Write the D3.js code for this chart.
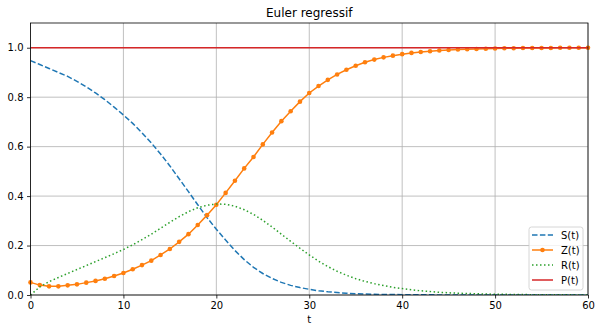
<!DOCTYPE html>
<html>
<head>
<meta charset="utf-8">
<script src="https://cdn.jsdelivr.net/npm/d3@7"></script>
<style>
  body { margin: 0; background: #fff; }
  svg text { font-family: "DejaVu Sans", sans-serif; fill: #000; }
</style>
</head>
<body>
<svg id="chart" width="601" height="333"></svg>
<script>
// time steps
const t = d3.range(0, 61)

// series
const S = [0.948, 0.932, 0.916, 0.900, 0.884, 0.864, 0.842, 0.817, 0.790, 0.760,
  0.728, 0.694, 0.656, 0.615, 0.570, 0.522, 0.470, 0.418, 0.365, 0.313,
  0.266, 0.222, 0.180, 0.143, 0.112, 0.087, 0.067, 0.051, 0.039, 0.030,
  0.023, 0.017, 0.013, 0.010, 0.007, 0.005, 0.004, 0.003, 0.002, 0.002,
  0.001, 0.001, 0.001, 0.001, 0, 0, 0, 0, 0, 0,
  0, 0, 0, 0, 0, 0, 0, 0, 0, 0, 0]

const Z = [0.051, 0.040, 0.035, 0.035, 0.039, 0.043, 0.050, 0.057, 0.066, 0.077,
  0.089, 0.104, 0.121, 0.139, 0.162, 0.186, 0.215, 0.246, 0.283, 0.323,
  0.365, 0.413, 0.462, 0.512, 0.558, 0.609, 0.657, 0.703, 0.743, 0.782,
  0.817, 0.845, 0.870, 0.892, 0.911, 0.927, 0.941, 0.952, 0.961, 0.968,
  0.974, 0.979, 0.983, 0.986, 0.989, 0.991, 0.993, 0.994, 0.995, 0.996,
  0.997, 0.998, 0.998, 0.999, 0.999, 0.999, 0.999, 1.0, 1.0, 1.0, 1.0]

const R = [0.000, 0.033, 0.054, 0.071, 0.087, 0.103, 0.119, 0.135, 0.151, 0.167,
  0.184, 0.203, 0.224, 0.246, 0.270, 0.294, 0.317, 0.337, 0.353, 0.363,
  0.368, 0.367, 0.359, 0.345, 0.326, 0.302, 0.275, 0.246, 0.217, 0.189,
  0.162, 0.137, 0.115, 0.096, 0.080, 0.066, 0.055, 0.046, 0.038, 0.031,
  0.026, 0.021, 0.017, 0.014, 0.011, 0.009, 0.007, 0.006, 0.005, 0.004,
  0.003, 0.003, 0.002, 0.002, 0.001, 0.001, 0.001, 0.001, 0.001, 0, 0]

const P = t.map(() => 1.0)

const xTicks = [0, 10, 20, 30, 40, 50, 60]
const yTicks = [0.0, 0.2, 0.4, 0.6, 0.8, 1.0]

const series = [
  { name: 'S(t)', values: S, color: '#1f77b4', dash: '5.5,2.4', marker: false },
  { name: 'Z(t)', values: Z, color: '#ff7f0e', dash: null, marker: true },
  { name: 'R(t)', values: R, color: '#2ca02c', dash: '1.5,2.5', marker: false },
  { name: 'P(t)', values: P, color: '#d62728', dash: null, marker: false }
]

// plot box
const margin = { top: 23, right: 13, bottom: 38, left: 30.5 }
const width = 601 - margin.left - margin.right
const height = 333 - margin.top - margin.bottom

const xScale = d3.scaleLinear().domain([0, 60]).range([0, width])
const yScale = d3.scaleLinear().domain([0, 1.1]).range([height, 0])

const svg = d3.select('#chart')
const g = svg.append('g')
  .attr('transform', `translate(${margin.left}, ${margin.top})`)

// grid
g.append('g')
  .selectAll('line')
  .data(xTicks)
  .join('line')
  .attr('x1', d => xScale(d)).attr('x2', d => xScale(d))
  .attr('y1', 0).attr('y2', height)
  .attr('stroke', '#b0b0b0').attr('stroke-width', 0.8)

g.append('g')
  .selectAll('line')
  .data(yTicks)
  .join('line')
  .attr('x1', 0).attr('x2', width)
  .attr('y1', d => yScale(d)).attr('y2', d => yScale(d))
  .attr('stroke', '#b0b0b0').attr('stroke-width', 0.8)

// lines
const line = d3.line()
  .x((d, i) => xScale(t[i]))
  .y(d => yScale(d))

const clip = svg.append('defs').append('clipPath').attr('id', 'clip')
clip.append('rect').attr('x', 0).attr('y', -2).attr('width', width).attr('height', height + 2)

series.forEach(s => {
  g.append('path')
    .datum(s.values)
    .attr('clip-path', 'url(#clip)')
    .attr('fill', 'none')
    .attr('stroke', s.color)
    .attr('stroke-width', 1.5)
    .attr('stroke-dasharray', s.dash)
    .attr('d', line)

  if (s.marker) {
    g.append('g')
      .selectAll('circle')
      .data(s.values)
      .join('circle')
      .attr('cx', (d, i) => xScale(t[i]))
      .attr('cy', d => yScale(d))
      .attr('r', 2.3)
      .attr('fill', s.color)
  }
})

// axes
const xAxis = g.append('g')
  .attr('transform', `translate(0, ${height})`)
  .call(d3.axisBottom(xScale).tickValues(xTicks).tickSize(3.5).tickPadding(3.5).tickFormat(d3.format('d')))
const yAxis = g.append('g')
  .call(d3.axisLeft(yScale).tickValues(yTicks).tickSize(3.5).tickPadding(3.5).tickFormat(d3.format('.1f')))

;[xAxis, yAxis].forEach(ax => {
  ax.select('.domain').remove()
  ax.selectAll('text').attr('font-size', 10).attr('font-family', 'DejaVu Sans').attr('fill', '#000')
  ax.selectAll('line').attr('stroke', '#000').attr('stroke-width', 0.8)
})

// frame
g.append('rect')
  .attr('width', width).attr('height', height)
  .attr('fill', 'none').attr('stroke', '#000').attr('stroke-width', 0.8)

// title and label
g.append('text')
  .attr('x', width / 2).attr('y', -6)
  .attr('text-anchor', 'middle')
  .attr('font-size', 12)
  .text('Euler regressif')

g.append('text')
  .attr('x', width / 2).attr('y', height + 28)
  .attr('text-anchor', 'middle')
  .attr('font-size', 10)
  .text('t')

// legend
const legend = g.append('g')
  .attr('transform', `translate(${width - 59}, ${height - 68})`)

legend.append('rect')
  .attr('width', 54).attr('height', 63)
  .attr('rx', 2.5)
  .attr('fill', 'rgba(255,255,255,0.8)')
  .attr('stroke', '#cccccc').attr('stroke-width', 0.8)

series.forEach((s, i) => {
  const row = legend.append('g').attr('transform', `translate(3, ${8 + i * 15})`)
  row.append('line')
    .attr('x1', 0).attr('x2', 21)
    .attr('stroke', s.color).attr('stroke-width', 1.5)
    .attr('stroke-dasharray', s.dash)
  if (s.marker) {
    row.append('circle').attr('cx', 10.5).attr('r', 2.3).attr('fill', s.color)
  }
  row.append('text')
    .attr('x', 29).attr('y', 3.6)
    .attr('font-size', 10)
    .text(s.name)
})
</script>
</body>
</html>
